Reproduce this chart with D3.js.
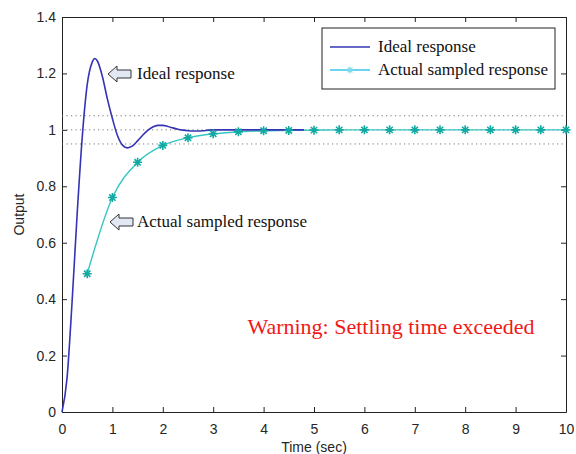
<!DOCTYPE html>
<html>
<head>
<meta charset="utf-8">
<script src="https://cdn.jsdelivr.net/npm/d3@7"></script>
<style>
  body { margin: 0; background: #fff; }
  svg { display: block; }
</style>
</head>
<body>
<svg id="chart"></svg>
<script>
// ideal (continuous) step response
const idealTime = [0, 0.1, 0.2, 0.3, 0.4, 0.5, 0.6, 0.65, 0.7, 0.8, 0.9, 1.0, 1.1, 1.2, 1.3, 1.4, 1.5, 1.6, 1.7, 1.8, 1.9, 2.0,
    2.1, 2.2, 2.3, 2.4, 2.5, 2.6, 2.7, 2.8, 2.9, 3.0, 3.2, 3.4, 3.6, 3.8, 4.0, 4.2, 4.4, 4.6, 4.8];
const idealOut = [0, 0.12, 0.39, 0.70, 0.97, 1.16, 1.24, 1.253, 1.245, 1.19, 1.11, 1.04, 0.98, 0.946, 0.936, 0.943, 0.961, 0.981, 0.998, 1.010, 1.016, 1.016,
    1.012, 1.007, 1.002, 0.999, 0.997, 0.996, 0.996, 0.997, 0.999, 1.0, 1.0, 1.0, 1.0, 1.0, 1.0, 1.0, 1.0, 1.0, 1.0];

// sampled response, every 0.5 s
const sampleTime = [0.5, 1, 1.5, 2, 2.5, 3, 3.5, 4, 4.5, 5, 5.5, 6, 6.5, 7, 7.5, 8, 8.5, 9, 9.5, 10];
const sampleOut = [0.49, 0.76, 0.885, 0.945, 0.972, 0.986, 0.993, 0.997, 0.998, 0.999, 1, 1, 1, 1, 1, 1, 1, 1, 1, 1];

const bandLevels = [1.05, 1, 0.95];
const xTicks = [0, 1, 2, 3, 4, 5, 6, 7, 8, 9, 10];
const yTicks = [0, 0.2, 0.4, 0.6, 0.8, 1, 1.2, 1.4];
const legendLabels = ["Ideal response", "Actual sampled response"];

const svgWidth = 576, svgHeight = 454;
const margin = { top: 17, right: 10, bottom: 42, left: 62 };
const width = svgWidth - margin.left - margin.right;
const height = svgHeight - margin.top - margin.bottom;

const idealColor = "#3434b4", actualColor = "#35c6c2", markColor = "#13a9a3";

const svg = d3.select("#chart").attr("width", svgWidth).attr("height", svgHeight);
const g = svg.append("g").attr("transform", "translate(" + margin.left + "," + margin.top + ")");

const x = d3.scaleLinear().domain([0, 10]).range([0, width]);
const y = d3.scaleLinear().domain([0, 1.4]).range([height, 0]);

const fmt = d => String(+d.toFixed(1));

function styleAxis(sel) {
    sel.selectAll("path.domain").attr("stroke", "#222").attr("stroke-width", 1);
    sel.selectAll(".tick line").attr("stroke", "#222");
    sel.selectAll(".tick text").attr("fill", "#262626")
        .style("font-family", "Liberation Sans, Arial, sans-serif").style("font-size", "14px");
}

g.append("g").attr("transform", "translate(0," + height + ")")
    .call(d3.axisBottom(x).tickValues(xTicks).tickFormat(fmt).tickSizeInner(-5).tickSizeOuter(0).tickPadding(12))
    .call(styleAxis);
g.append("g")
    .call(d3.axisTop(x).tickValues(xTicks).tickFormat("").tickSizeInner(-5).tickSizeOuter(0))
    .call(styleAxis);
g.append("g")
    .call(d3.axisLeft(y).tickValues(yTicks).tickFormat(fmt).tickSizeInner(-5).tickSizeOuter(0).tickPadding(6))
    .call(styleAxis);
g.append("g").attr("transform", "translate(" + width + ",0)")
    .call(d3.axisRight(y).tickValues(yTicks).tickFormat("").tickSizeInner(-5).tickSizeOuter(0))
    .call(styleAxis);

// axis titles
g.append("text")
    .attr("x", width / 2).attr("y", height + 40)
    .attr("text-anchor", "middle")
    .attr("fill", "#262626")
    .style("font-family", "Liberation Sans, Arial, sans-serif").style("font-size", "14px")
    .text("Time (sec)");
g.append("text")
    .attr("transform", "rotate(-90)")
    .attr("x", -height / 2).attr("y", -38)
    .attr("text-anchor", "middle")
    .attr("fill", "#262626")
    .style("font-family", "Liberation Sans, Arial, sans-serif").style("font-size", "14px")
    .text("Output");

// settling band
g.selectAll("line.band").data(bandLevels).enter().append("line")
    .attr("class", "band")
    .attr("x1", 0).attr("x2", width)
    .attr("y1", d => y(d)).attr("y2", d => y(d))
    .attr("stroke", "#777")
    .attr("stroke-width", 1)
    .attr("stroke-dasharray", "1.2,3.3");

const idealData = idealTime.map((t, i) => ({ t: t, v: idealOut[i] }));
const sampleData = sampleTime.map((t, i) => ({ t: t, v: sampleOut[i] }));

const line = d3.line().x(d => x(d.t)).y(d => y(d.v)).curve(d3.curveMonotoneX);

g.append("path")
    .datum(sampleData)
    .attr("fill", "none")
    .attr("stroke", actualColor)
    .attr("stroke-width", 1.4)
    .attr("d", line);

g.append("path")
    .datum(idealData)
    .attr("fill", "none")
    .attr("stroke", idealColor)
    .attr("stroke-width", 1.6)
    .attr("stroke-linejoin", "round")
    .attr("d", line);

// asterisk marker
function asterisk(s) {
    const d = s * 0.7;
    return "M" + (-s) + ",0L" + s + ",0M0," + (-s) + "L0," + s +
        "M" + (-d) + "," + (-d) + "L" + d + "," + d + "M" + (-d) + "," + d + "L" + d + "," + (-d);
}

g.selectAll("path.mark").data(sampleData).enter().append("path")
    .attr("class", "mark")
    .attr("transform", d => "translate(" + x(d.t) + "," + y(d.v) + ")")
    .attr("d", asterisk(4.5))
    .attr("stroke", markColor)
    .attr("stroke-width", 1.6)
    .attr("fill", "none");

// annotation arrows
function arrow(tipX, cy) {
    return "M" + tipX + "," + cy +
        "L" + (tipX + 9) + "," + (cy - 8) +
        "L" + (tipX + 9) + "," + (cy - 4) +
        "L" + (tipX + 23) + "," + (cy - 4) +
        "L" + (tipX + 23) + "," + (cy + 4) +
        "L" + (tipX + 9) + "," + (cy + 4) +
        "L" + (tipX + 9) + "," + (cy + 8) + "Z";
}

const notes = [
    { tipX: 108, cy: 74, text: legendLabels[0] },
    { tipX: 110, cy: 222, text: legendLabels[1] }
];
notes.forEach(n => {
    svg.append("path")
        .attr("d", arrow(n.tipX, n.cy))
        .attr("fill", "#e1e7f3")
        .attr("stroke", "#333")
        .attr("stroke-width", 1);
    svg.append("text")
        .attr("x", 137).attr("y", n.cy + 5)
        .attr("fill", "#111")
        .style("font-family", "Liberation Serif, Times New Roman, serif").style("font-size", "17px")
        .text(n.text);
});

// warning
svg.append("text")
    .attr("x", 391).attr("y", 334)
    .attr("text-anchor", "middle")
    .attr("fill", "#f01818")
    .style("font-family", "Liberation Serif, Times New Roman, serif").style("font-size", "22px")
    .text("Warning: Settling time exceeded");

// legend
const legend = svg.append("g").attr("transform", "translate(322,28)");
legend.append("rect")
    .attr("width", 233).attr("height", 61)
    .attr("fill", "#fff")
    .attr("stroke", "#222").attr("stroke-width", 1);

const legendColors = [idealColor, "#3cc6ea"];
legendLabels.forEach((lab, i) => {
    const ly = 19 + i * 23;
    legend.append("line")
        .attr("x1", 8).attr("x2", 48)
        .attr("y1", ly).attr("y2", ly)
        .attr("stroke", legendColors[i])
        .attr("stroke-width", 1.6);
    if (i === 1) {
        legend.append("path")
            .attr("transform", "translate(28," + ly + ")")
            .attr("d", asterisk(3.5))
            .attr("stroke", "#7fdcf0")
            .attr("stroke-width", 1.2);
    }
    legend.append("text")
        .attr("x", 56).attr("y", ly + 5)
        .attr("fill", "#111")
        .style("font-family", "Liberation Serif, Times New Roman, serif").style("font-size", "17px")
        .text(lab);
});
</script>
</body>
</html>
